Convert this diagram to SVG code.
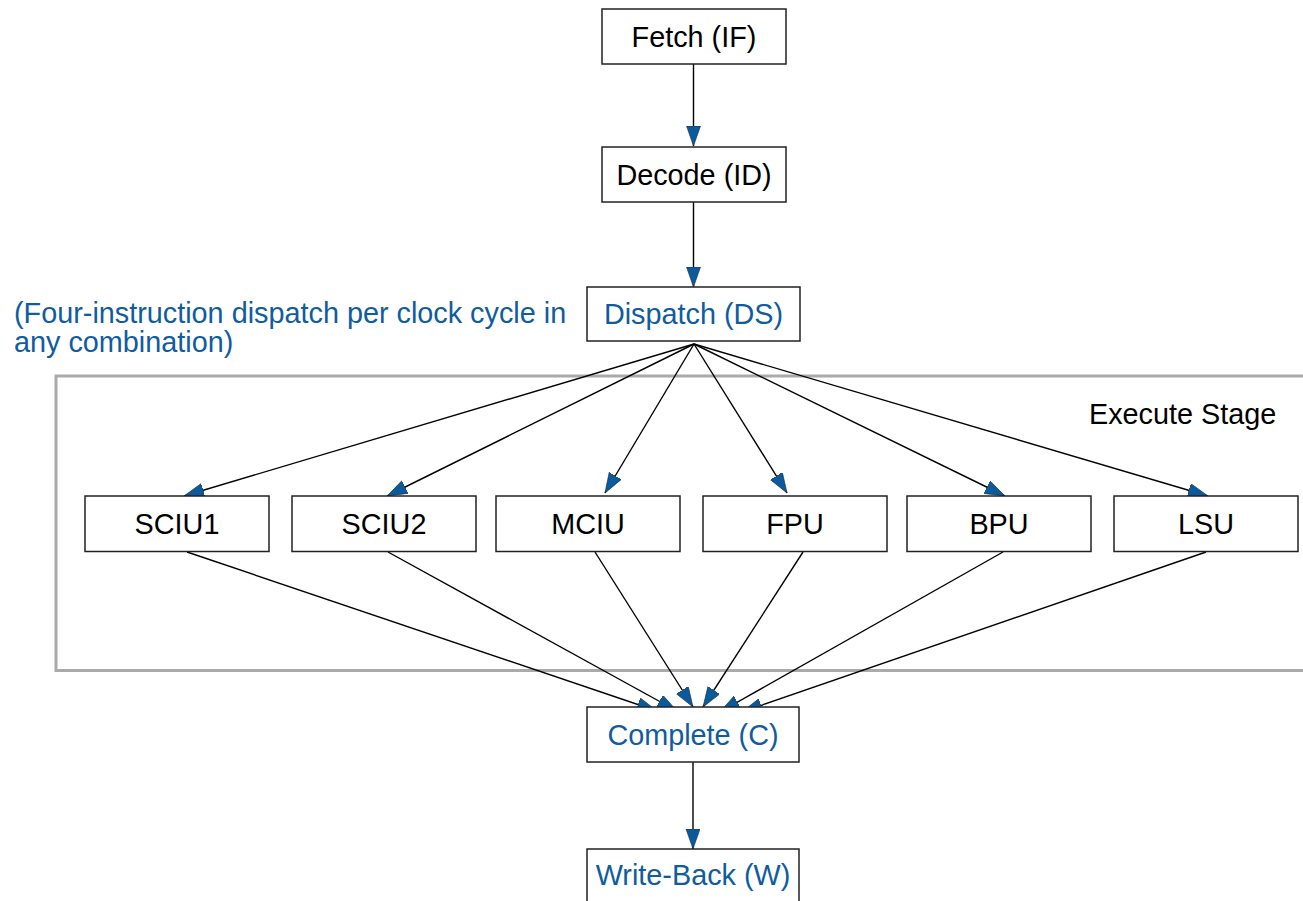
<svg xmlns="http://www.w3.org/2000/svg" width="1303" height="901" viewBox="0 0 1303 901">
<style>
.box{fill:#fff;stroke:#222;stroke-width:1.5}
.t{font-family:"Liberation Sans",Arial,sans-serif;font-size:28.8px;fill:#000;text-anchor:middle}
.c{stroke:#000;stroke-width:1.4;fill:none;marker-end:url(#ah)}
</style>
<defs>
<marker id="ah" markerUnits="userSpaceOnUse" markerWidth="24" markerHeight="16" refX="20" refY="7" orient="auto">
<path d="M0,0 L20,7 L0,14 z" fill="#0a5a9c" stroke="#1a2a40" stroke-width="0.6"/>
</marker>
</defs>
<rect width="1303" height="901" fill="#fff"/>
<g id="execute-stage">
<rect x="56" y="376" width="1262" height="294.5" fill="none" stroke="#aaa" stroke-width="3"/>
<text class="t" x="1089" y="424" style="text-anchor:start">Execute Stage</text>
</g>
<g id="note">
<text class="t" x="14" y="323" style="text-anchor:start;fill:#0f5ca0">(Four-instruction dispatch per clock cycle in</text>
<text class="t" x="14" y="352" style="text-anchor:start;fill:#0f5ca0">any combination)</text>
</g>
<g id="connectors">
<line class="c" x1="693.5" y1="64" x2="693.5" y2="146"/>
<line class="c" x1="693.5" y1="202" x2="693.5" y2="287"/>
<line class="c" x1="694" y1="344" x2="184" y2="496"/>
<line class="c" x1="694" y1="344" x2="387" y2="496"/>
<line class="c" x1="694" y1="344" x2="605" y2="493"/>
<line class="c" x1="694" y1="344" x2="787" y2="493"/>
<line class="c" x1="694" y1="344" x2="1005" y2="496"/>
<line class="c" x1="694" y1="344" x2="1208" y2="496"/>
<line class="c" x1="187" y1="552" x2="657" y2="711"/>
<line class="c" x1="388" y1="552" x2="677" y2="711"/>
<line class="c" x1="595" y1="552" x2="693" y2="707"/>
<line class="c" x1="803" y1="552" x2="703" y2="707"/>
<line class="c" x1="1003" y1="552" x2="720" y2="712"/>
<line class="c" x1="1206" y1="552" x2="742" y2="712"/>
<line class="c" x1="693" y1="762" x2="693" y2="849"/>
</g>
<g id="fetch"><rect class="box" x="602" y="9" width="184" height="55"/><text class="t" x="694" y="46.5">Fetch (IF)</text></g>
<g id="decode"><rect class="box" x="602" y="147" width="184" height="55"/><text class="t" x="694" y="184.5">Decode (ID)</text></g>
<g id="dispatch"><rect class="box" x="587" y="287" width="213" height="54"/><text class="t" x="693.5" y="324" style="fill:#0f5ca0">Dispatch (DS)</text></g>
<g id="sciu1"><rect class="box" x="85" y="496" width="184" height="55.5"/><text class="t" x="177" y="534">SCIU1</text></g>
<g id="sciu2"><rect class="box" x="292" y="496" width="184" height="55.5"/><text class="t" x="384" y="534">SCIU2</text></g>
<g id="mciu"><rect class="box" x="496" y="496" width="184" height="55.5"/><text class="t" x="588" y="534">MCIU</text></g>
<g id="fpu"><rect class="box" x="703" y="496" width="184" height="55.5"/><text class="t" x="795" y="534">FPU</text></g>
<g id="bpu"><rect class="box" x="907" y="496" width="184" height="55.5"/><text class="t" x="999" y="534">BPU</text></g>
<g id="lsu"><rect class="box" x="1114" y="496" width="184" height="55.5"/><text class="t" x="1206" y="534">LSU</text></g>
<g id="complete"><rect class="box" x="587" y="707" width="212" height="55"/><text class="t" x="693" y="745" style="fill:#0f5ca0">Complete (C)</text></g>
<g id="writeback"><rect class="box" x="587" y="849" width="212" height="56"/><text class="t" x="693" y="885" style="fill:#0f5ca0">Write-Back (W)</text></g>
</svg>
